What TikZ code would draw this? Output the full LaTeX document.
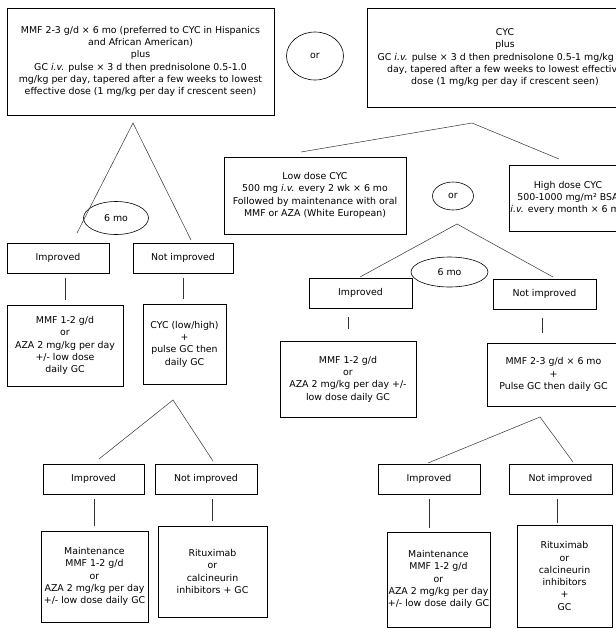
\documentclass[tikz,border=0pt]{standalone}
\usepackage{fontspec}
\setmainfont{DejaVu Sans}
\usetikzlibrary{shapes}

\begin{document}
\begin{tikzpicture}[x=1pt,y=-1pt,
  box/.style={draw,line width=0.7pt,align=center,inner sep=1pt,font=\fontsize{9.4}{12.3}\selectfont},
  oval/.style={draw,ellipse,line width=0.6pt,inner sep=0pt,font=\fontsize{9.4}{12.3}\selectfont},
  link/.style={draw=black!80,line width=0.5pt},
  drop/.style={link,shorten <=5pt,shorten >=5pt}]
  \fill[white] (0,0) rectangle (616,633);
  \useasboundingbox (0,0) rectangle (616,633);
  \clip (0,0) rectangle (616,633);

  % first line treatments
  \node[box,minimum width=267pt,minimum height=107pt] (a) at (140.5,61.5)
    {MMF 2-3 g/d × 6 mo (preferred to CYC in Hispanics\\and African American)\\plus\\GC \textit{i.v.} pulse × 3 d then prednisolone 0.5-1.0\\mg/kg per day, tapered after a few weeks to lowest\\effective dose (1 mg/kg per day if crescent seen)};
  \node[oval,minimum width=57pt,minimum height=48pt] (or1) at (315,56) {or};
  \node[box,inner xsep=-5pt,minimum width=276pt,minimum height=99pt] (b) at (505,57.5)
    {CYC\\plus\\GC \textit{i.v.} pulse × 3 d then prednisolone 0.5-1 mg/kg per\\day, tapered after a few weeks to lowest effective\\dose (1 mg/kg per day if crescent seen)};

  % MMF branch
  \node[oval,minimum width=65pt,minimum height=33pt] (mo1) at (116,218) {6 mo};
  \node[box,minimum width=102pt,minimum height=30pt] (imp1) at (58,258) {Improved};
  \node[box,minimum width=100pt,minimum height=30pt] (nimp1) at (183,258) {Not improved};
  \node[box,minimum width=116pt,minimum height=81pt] (res1) at (65,345.5)
    {MMF 1-2 g/d\\or\\AZA 2 mg/kg per day\\+/- low dose\\daily GC};
  \node[box,minimum width=83pt,minimum height=80pt] (cyc1) at (184.5,344)
    {CYC (low/high)\\+\\pulse GC then\\daily GC};
  \node[box,minimum width=101pt,minimum height=30pt] (imp2) at (93.5,479) {Improved};
  \node[box,minimum width=102pt,minimum height=30pt] (nimp2) at (206,479) {Not improved};
  \node[box,minimum width=107pt,minimum height=91pt] (res2) at (94.5,576.5)
    {Maintenance\\MMF 1-2 g/d\\or\\AZA 2 mg/kg per day\\+/- low dose daily GC};
  \node[box,minimum width=109pt,minimum height=91pt] (rit2) at (212.5,571.5)
    {Rituximab\\or\\calcineurin\\inhibitors + GC};

  % CYC branch
  \node[box,minimum width=182pt,minimum height=77pt] (low) at (315,195.5)
    {Low dose CYC\\500 mg \textit{i.v.} every 2 wk × 6 mo\\Followed by maintenance with oral\\MMF or AZA (White European)};
  \node[oval,minimum width=41pt,minimum height=28pt] (or2) at (453,196) {or};
  \node[box,minimum width=118pt,minimum height=66pt] (high) at (568,198)
    {High dose CYC\\500-1000 mg/m² BSA\\\textit{i.v.} every month × 6 mo};
  \node[oval,minimum width=77pt,minimum height=30pt] (mo2) at (449.5,272) {6 mo};
  \node[box,minimum width=103pt,minimum height=30pt] (imp3) at (360.5,293) {Improved};
  \node[box,minimum width=103pt,minimum height=30pt] (nimp3) at (544.5,294) {Not improved};
  \node[box,minimum width=136pt,minimum height=76pt] (res3) at (348,379)
    {MMF 1-2 g/d\\or\\AZA 2 mg/kg per day +/-\\low dose daily GC};
  \node[box,minimum width=133pt,minimum height=63pt] (mmf3) at (553.5,374.5)
    {MMF 2-3 g/d × 6 mo\\+\\Pulse GC then daily GC};
  \node[box,minimum width=102pt,minimum height=30pt] (imp4) at (429,479) {Improved};
  \node[box,minimum width=103pt,minimum height=30pt] (nimp4) at (560.5,479) {Not improved};
  \node[box,minimum width=103pt,minimum height=95pt] (res4) at (438.5,579.5)
    {Maintenance\\MMF 1-2 g/d\\or\\AZA 2 mg/kg per day\\+/- low dose daily GC};
  \node[box,minimum width=95pt,minimum height=102pt] (rit4) at (564.5,576)
    {Rituximab\\or\\calcineurin\\inhibitors\\+\\GC};

  % split points
  \coordinate (ta) at (133,123);
  \coordinate (ta1) at (77,233);
  \coordinate (ta2) at (191,240);
  \coordinate (tc) at (173,400);
  \coordinate (tc1) at (99,459);
  \coordinate (tc2) at (213,461);
  \coordinate (tb) at (472,123);
  \coordinate (tb1) at (301,152);
  \coordinate (tb2) at (559,159);
  \coordinate (td) at (457,224);
  \coordinate (td1) at (360,277);
  \coordinate (td2) at (553,277);
  \coordinate (te) at (540,417);
  \coordinate (te1) at (428,463);
  \coordinate (te2) at (573,462);

  \path[link] (ta1) -- (ta) -- (ta2)
    (tc1) -- (tc) -- (tc2)
    (tb1) -- (tb) -- (tb2)
    (td1) -- (td) -- (td2)
    (te1) -- (te) -- (te2);

  \path[drop] (imp1.south -| res1.north) -- (res1.north);
  \path[drop] (nimp1.south) -- (nimp1.south |- cyc1.north);
  \path[drop] (imp2.south -| res2.north) -- (res2.north);
  \path[drop] (nimp2.south -| rit2.north) -- (rit2.north);
  \path[drop,shorten <=9pt,shorten >=12pt] (imp3.south -| res3.north) -- (res3.north);
  \path[drop,shorten <=9pt,shorten >=10pt] (nimp3.south -| 542,0) -- (542,0 |- mmf3.north);
  \path[drop,shorten >=4pt] (imp4.south) -- (imp4.south |- res4.north);
  \path[drop,shorten >=2pt] (nimp4.south -| 557,0) -- (557,0 |- rit4.north);
\end{tikzpicture}
\end{document}
